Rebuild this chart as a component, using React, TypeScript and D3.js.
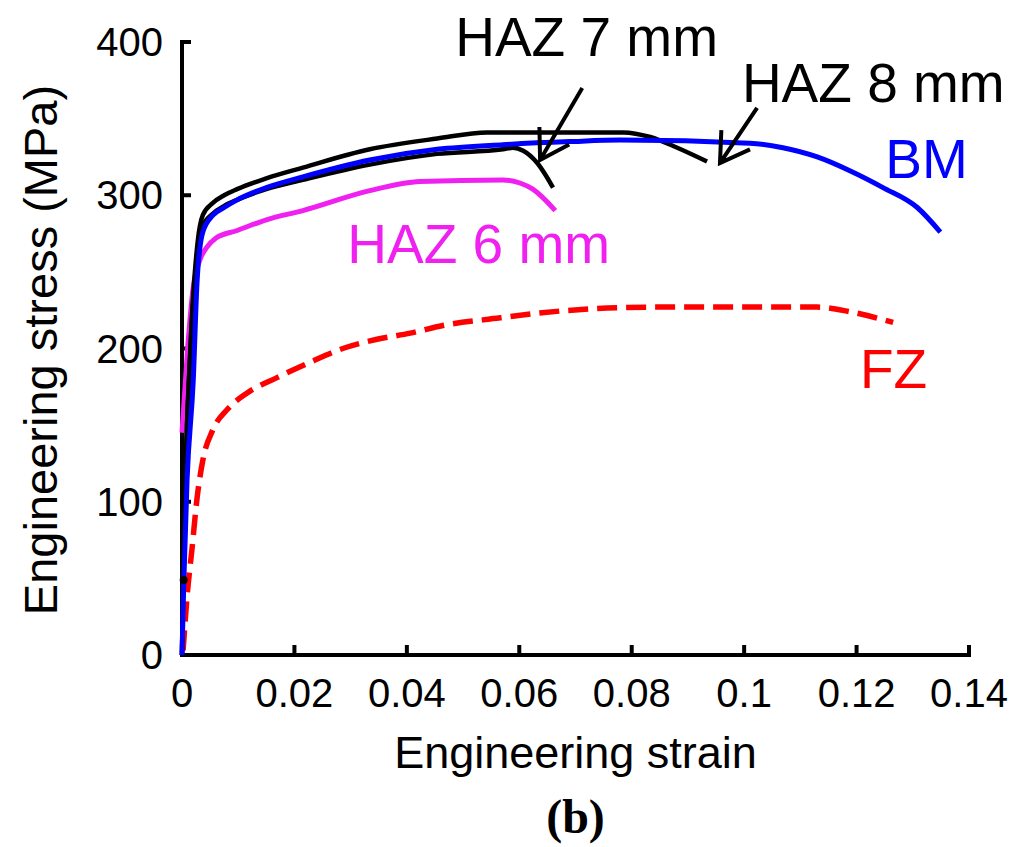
import * as d3 from 'd3'

// strain, stress (MPa) pairs
const bmStrain = [0, 0.0003, 0.0009, 0.002, 0.0027, 0.0037, 0.0055, 0.0075, 0.0098, 0.015, 0.0215, 0.0334, 0.0454, 0.0571, 0.069, 0.078, 0.101, 0.1069, 0.113, 0.1188, 0.1247, 0.1308, 0.1349]
const bmStress = [0, 45, 114, 179, 245, 276, 287, 292, 297, 305, 312, 323, 330, 333, 335, 336, 334, 331, 325, 316, 305, 292, 276]

const haz6Strain = [0, 0.001, 0.002, 0.0032, 0.0044, 0.006, 0.0098, 0.015, 0.0215, 0.0334, 0.0423, 0.0571, 0.0601, 0.0624, 0.0664]
const haz6Stress = [145, 200, 240, 258, 266, 272, 277, 284, 290, 303, 309, 310, 308, 304, 290]

const haz7Strain = [0, 0.0002, 0.0015, 0.0028, 0.0037, 0.0055, 0.0075, 0.0098, 0.015, 0.0215, 0.0334, 0.0454, 0.0571, 0.0589, 0.0607, 0.0632, 0.066]
const haz7Stress = [0, 49, 200, 262, 280, 288, 293, 297, 304, 310, 320, 327, 330, 331, 329, 321, 305]

const haz8Strain = [0, 0.0002, 0.0015, 0.0028, 0.0037, 0.0055, 0.0075, 0.0098, 0.015, 0.0215, 0.0334, 0.0454, 0.0543, 0.056, 0.0785, 0.0833, 0.0881, 0.0934]
const haz8Stress = [0, 49, 200, 270, 287, 295, 300, 304, 311, 318, 330, 337, 341, 341, 341, 338, 331, 322]

const fzStrain = [0.0002, 0.0009, 0.0018, 0.0027, 0.0037, 0.0055, 0.008, 0.0116, 0.0169, 0.0228, 0.0286, 0.0347, 0.0406, 0.0464, 0.0566, 0.0632, 0.0833, 0.113, 0.1188, 0.1265]
const fzStress = [3, 38, 70, 103, 127, 147, 160, 171, 181, 191, 200, 206, 210, 215, 220, 223, 227, 227, 224, 217]

const xTicks = [0, 0.02, 0.04, 0.06, 0.08, 0.1, 0.12, 0.14]
const xTickLabels = ['0', '0.02', '0.04', '0.06', '0.08', '0.1', '0.12', '0.14']
const yTicks = [0, 100, 200, 300, 400]

const labelText = ['HAZ 7 mm', 'HAZ 8 mm', 'BM', 'HAZ 6 mm', 'FZ']
const labelStrain = [0.0486, 0.0996, 0.1251, 0.0294, 0.1206]
const labelStress = [391, 361, 311, 256, 174]
const labelColor = ['#000', '#000', '#0000ff', '#f020f0', '#ff0000']

// arrows: tip -> tail, in data units
const arrowTipStrain = [0.0637, 0.0957]
const arrowTipStress = [323, 321]
const arrowTailStrain = [0.0712, 0.1023]
const arrowTailStress = [370, 357]

const zip = (xs: number[], ys: number[]) => xs.map((x, i) => [x, ys[i]] as [number, number])

export default function App() {
  const width = 1016
  const height = 847
  const x = d3.scaleLinear().domain([0, 0.14]).range([182, 969])
  const y = d3.scaleLinear().domain([0, 400]).range([655, 42])
  const line = d3.line<[number, number]>().x(d => x(d[0])).y(d => y(d[1])).curve(d3.curveMonotoneX)
  const font = 'Liberation Sans, Arial, sans-serif'

  const series = [
    { data: zip(fzStrain, fzStress), color: '#ff0000', w: 5.5, dash: '20 9' },
    { data: zip(haz6Strain, haz6Stress), color: '#f020f0', w: 5, dash: undefined },
    { data: zip(haz7Strain, haz7Stress), color: '#000', w: 4.5, dash: undefined },
    { data: zip(haz8Strain, haz8Stress), color: '#000', w: 4.5, dash: undefined },
    { data: zip(bmStrain, bmStress), color: '#0000ff', w: 5, dash: undefined },
  ]

  const arrows = arrowTipStrain.map((s, i) => {
    const tx = x(s), ty = y(arrowTipStress[i])
    const ex = x(arrowTailStrain[i]), ey = y(arrowTailStress[i])
    const ang = Math.atan2(ey - ty, ex - tx)
    const len = 33
    const a = 0.55
    const w1 = [tx + len * Math.cos(ang - a), ty + len * Math.sin(ang - a)]
    const w2 = [tx + len * Math.cos(ang + a), ty + len * Math.sin(ang + a)]
    return `M${ex},${ey}L${tx},${ty}M${w1[0]},${w1[1]}L${tx},${ty}L${w2[0]},${w2[1]}`
  })

  return (
    <svg width={width} height={height} style={{ position: 'absolute', left: 0, top: 0, background: '#fff' }}>
      {/* axes */}
      <g stroke="#000" strokeWidth={4} fill="none" strokeLinecap="square">
        <line x1={x(0)} x2={x(0)} y1={y(0)} y2={y(400)} />
        <line x1={x(0)} x2={x(0.14)} y1={y(0)} y2={y(0)} />
        {yTicks.map(t => (
          <line key={'yt' + t} x1={x(0)} x2={x(0) + 7} y1={y(t)} y2={y(t)} />
        ))}
        {xTicks.map(t => (
          <line key={'xt' + t} x1={x(t)} x2={x(t)} y1={y(0)} y2={y(0) - 8} />
        ))}
      </g>
      <g fontFamily={font} fontSize={40} fill="#000">
        {yTicks.map(t => (
          <text key={'yl' + t} x={163} y={y(t)} textAnchor="end" dominantBaseline="central">{t}</text>
        ))}
        {xTicks.map((t, i) => (
          <text key={'xl' + t} x={x(t)} y={707} textAnchor="middle">{xTickLabels[i]}</text>
        ))}
      </g>
      <text x={(x(0) + x(0.14)) / 2} y={768} textAnchor="middle" fontFamily={font} fontSize={45}>Engineering strain</text>
      <text transform={`translate(57,350) rotate(-90)`} textAnchor="middle" fontFamily={font} fontSize={47}>Engineering stress (MPa)</text>
      <text x={(x(0) + x(0.14)) / 2} y={833} textAnchor="middle" fontFamily="Liberation Serif, Times New Roman, serif" fontWeight="bold" fontSize={48}>(b)</text>

      {/* curves */}
      {series.map((s, i) => (
        <path key={i} d={line(s.data) || ''} fill="none" stroke={s.color} strokeWidth={s.w} strokeDasharray={s.dash} strokeLinejoin="round" />
      ))}
      <circle cx={x(0.0003)} cy={y(49)} r={4} fill="#000" />

      {/* arrows */}
      {arrows.map((d, i) => (
        <path key={'ar' + i} d={d} fill="none" stroke="#000" strokeWidth={4} />
      ))}

      {/* annotations */}
      {labelText.map((t, i) => (
        <text key={'lb' + i} x={x(labelStrain[i])} y={y(labelStress[i])} fill={labelColor[i]} fontFamily={font} fontSize={55}>{t}</text>
      ))}
    </svg>
  )
}
